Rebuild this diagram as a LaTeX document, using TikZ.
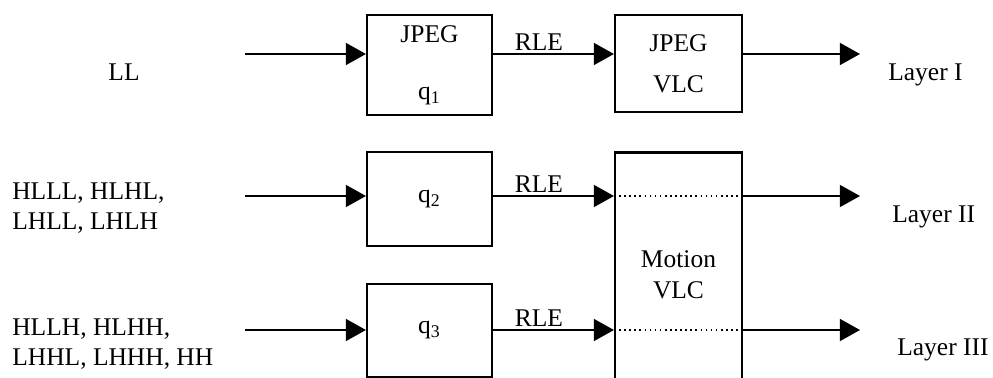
\documentclass[tikz,border=0pt]{standalone}
\usepackage{fontspec}
\setmainfont{Liberation Serif}
\usetikzlibrary{positioning, arrows.meta, calc}

\begin{document}
\begin{tikzpicture}[
  x=0.02cm, y=-0.02cm,
  font=\fontsize{14.5}{17.5}\selectfont,
  blk/.style={draw, line width=1.2pt, minimum width=2.5cm, align=center, inner sep=0pt},
  lbl/.style={align=left, anchor=west, inner sep=0pt},
  link/.style={-{Triangle[length=11.5pt, width=12.5pt]}, line width=1.2pt},
  rle/.style={above, inner sep=1.5pt, pos=0.38},
  pass/.style={dotted, line width=0.9pt},
]
\useasboundingbox (0,0) rectangle (993,378);

\node[blk, minimum height=2.0cm] (q1box) at (429.5,65) {JPEG\\[15pt]q\textsubscript{1}};
\node[blk, minimum width=2.54cm, minimum height=1.94cm] (vlc1) at (678.5,63.5) {JPEG\\[6pt]VLC};
\node[blk, minimum height=1.88cm] (q2box) at (429.5,199) {q\textsubscript{2}};
\node[blk, minimum height=1.86cm] (q3box) at (429.5,330.5) {q\textsubscript{3}};
\node[blk, minimum width=2.54cm, minimum height=4.9cm] (mvlc) at (678.5,275) {Motion\\VLC};

\node[inner sep=0pt] (ll) at (124,72) {LL};
\node[lbl] (hl) at (12,208) {HLLL, HLHL,\\LHLL, LHLH};
\node[lbl] (hh) at (12,344) {HLLH, HLHH,\\LHHL, LHHH, HH};
\node[lbl] (lay1) at (888,75) {Layer I};
\node[lbl] (lay2) at (892,217) {Layer II};
\node[lbl] (lay3) at (897,350) {Layer III};

\coordinate (in1) at (245,54);
\coordinate (in2) at (245,196);
\coordinate (in3) at (245,330);
\coordinate (out1) at (860,54);
\coordinate (out2) at (860,196);
\coordinate (out3) at (860,330);

\draw[link] (in1) -- (in1 -| q1box.west);
\draw[link] (in2) -- (in2 -| q2box.west);
\draw[link] (in3) -- (in3 -| q3box.west);

\draw[link] (in1 -| q1box.east) -- node[rle] {RLE} (in1 -| vlc1.west);
\draw[link] (in2 -| q2box.east) -- node[rle] {RLE} (in2 -| mvlc.west);
\draw[link] (in3 -| q3box.east) -- node[rle] {RLE} (in3 -| mvlc.west);

\draw[pass] (in2 -| mvlc.west) -- (in2 -| mvlc.east);
\draw[pass] (in3 -| mvlc.west) -- (in3 -| mvlc.east);

\draw[link] (in1 -| vlc1.east) -- (out1);
\draw[link] (in2 -| mvlc.east) -- (out2);
\draw[link] (in3 -| mvlc.east) -- (out3);

\end{tikzpicture}
\end{document}
